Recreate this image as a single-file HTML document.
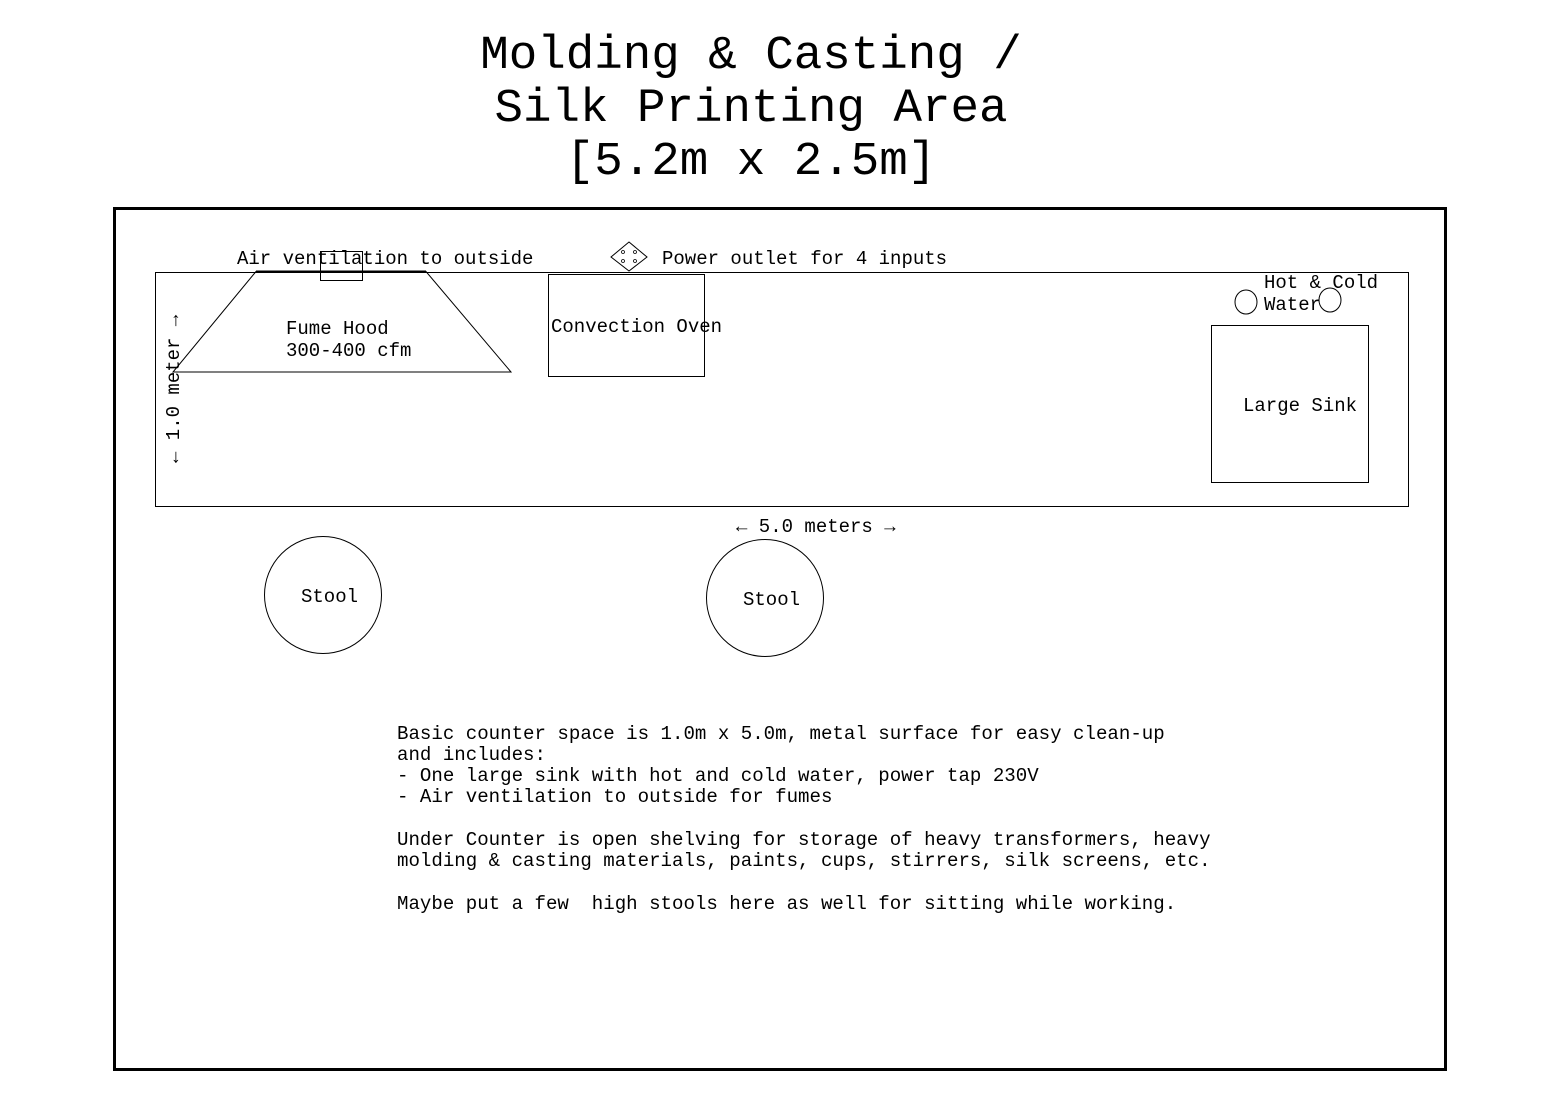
<!DOCTYPE html>
<html><head><meta charset="utf-8"><style>
html,body{margin:0;padding:0;background:#fff;}
svg{display:block;}
text{font-family:"Liberation Mono","DejaVu Sans Mono",monospace;fill:#000;}
.pre{white-space:pre;}
</style></head><body>
<svg width="1559" height="1101" viewBox="0 0 1559 1101" xmlns="http://www.w3.org/2000/svg">
<g font-size="47.5" text-anchor="middle">
<text x="751" y="68">Molding &amp; Casting /</text>
<text x="751" y="121">Silk Printing Area</text>
<text x="751" y="174">[5.2m x 2.5m]</text>
</g>
<rect x="114.5" y="208.5" width="1331" height="861" fill="none" stroke="#000" stroke-width="3"/>
<rect x="155.5" y="272.5" width="1253" height="234" fill="none" stroke="#000" stroke-width="1"/>
<g font-size="19">
<text x="237" y="264">Air ventilation to outside</text>
<text x="662" y="264">Power outlet for 4 inputs</text>
</g>
<polygon points="256,271.5 426,271.5 511,372 173,372" fill="none" stroke="#000" stroke-width="1"/>
<line x1="256" y1="271.5" x2="426" y2="271.5" stroke="#000" stroke-width="2"/>
<rect x="320.5" y="251.5" width="42" height="29" fill="none" stroke="#000"/>
<g font-size="19"><text x="286" y="334">Fume Hood</text><text x="286" y="356">300-400 cfm</text></g>
<text font-size="19" transform="translate(179,463) rotate(-90)">← 1.0 meter →</text>
<polygon points="629,242 647,257 629,271 611,257" fill="#fff" stroke="#000"/>
<g fill="none" stroke="#000" stroke-width="0.8"><circle cx="623" cy="252" r="1.5"/><circle cx="635" cy="252" r="1.5"/><circle cx="623" cy="261" r="1.5"/><circle cx="635" cy="261" r="1.5"/></g>
<rect x="548.5" y="274.5" width="156" height="102" fill="none" stroke="#000"/>
<text x="551" y="332" font-size="19">Convection Oven</text>
<g font-size="19"><text x="1264" y="288">Hot &amp; Cold</text><text x="1264" y="310">Water</text></g>
<ellipse cx="1246" cy="302" rx="11" ry="12" fill="none" stroke="#000"/>
<ellipse cx="1330" cy="300" rx="11" ry="12" fill="none" stroke="#000"/>
<rect x="1211.5" y="325.5" width="157" height="157" fill="none" stroke="#000"/>
<text x="1243" y="411" font-size="19">Large Sink</text>
<text x="736" y="532" font-size="19">← 5.0 meters →</text>
<circle cx="323" cy="595" r="58.5" fill="none" stroke="#000"/>
<text x="301" y="602" font-size="19">Stool</text>
<circle cx="765" cy="598" r="58.5" fill="none" stroke="#000"/>
<text x="743" y="605" font-size="19">Stool</text>
<g font-size="19.1">
<text x="397" y="739">Basic counter space is 1.0m x 5.0m, metal surface for easy clean-up</text>
<text x="397" y="760">and includes:</text>
<text x="397" y="781">- One large sink with hot and cold water, power tap 230V</text>
<text x="397" y="802">- Air ventilation to outside for fumes</text>
<text x="397" y="845">Under Counter is open shelving for storage of heavy transformers, heavy</text>
<text x="397" y="866">molding &amp; casting materials, paints, cups, stirrers, silk screens, etc.</text>
<text x="397" y="909" class="pre">Maybe put a few  high stools here as well for sitting while working.</text>
</g>
</svg>
</body></html>
